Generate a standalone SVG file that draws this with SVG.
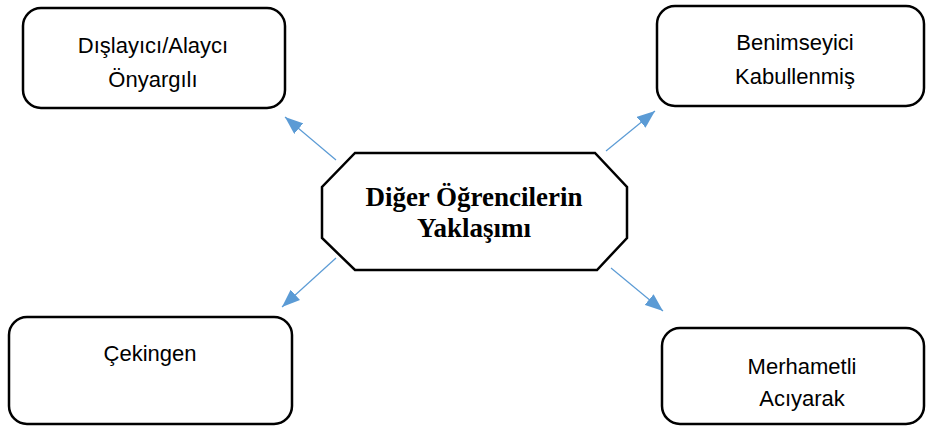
<svg xmlns="http://www.w3.org/2000/svg" width="927" height="436" viewBox="0 0 927 436">
<style>
.box{fill:#fff;stroke:#000;stroke-width:2.5}
.t{font-family:"Liberation Sans",Arial,sans-serif;font-size:22px;fill:#000;text-anchor:middle}
.c{font-family:"Liberation Serif","Times New Roman",serif;font-size:27px;font-weight:bold;fill:#000;text-anchor:middle}
.conn{stroke:#5B9BD5;stroke-width:1.2;fill:none;marker-end:url(#ah)}
</style>
<defs>
<marker id="ah" markerUnits="userSpaceOnUse" markerWidth="20" markerHeight="14" refX="18" refY="7" orient="auto">
<path d="M0,0 L18,7 L0,14 Z" fill="#5B9BD5"/>
</marker>
</defs>
<rect width="927" height="436" fill="#fff"/>
<g id="connectors">
<line class="conn" x1="336" y1="160" x2="285" y2="117"/>
<line class="conn" x1="606" y1="151" x2="655" y2="111"/>
<line class="conn" x1="336" y1="258" x2="282" y2="307"/>
<line class="conn" x1="611" y1="268" x2="663" y2="311"/>
</g>
<g id="center">
<polygon class="box" points="355,153 595,153 627,187 627,238 597,270 355,270 322,238 322,187"/>
<text class="c" x="474" y="206">Diğer Öğrencilerin</text>
<text class="c" x="474" y="237">Yaklaşımı</text>
</g>
<g id="dislayici">
<rect class="box" x="23" y="8" width="262" height="100" rx="18"/>
<text class="t" x="153" y="53">Dışlayıcı/Alaycı</text>
<text class="t" x="153" y="87">Önyargılı</text>
</g>
<g id="benimseyici">
<rect class="box" x="657" y="6" width="267" height="100" rx="18"/>
<text class="t" x="795" y="50">Benimseyici</text>
<text class="t" x="795" y="84">Kabullenmiş</text>
</g>
<g id="cekingen">
<rect class="box" x="9" y="317" width="283" height="107" rx="18"/>
<text class="t" x="150" y="361">Çekingen</text>
</g>
<g id="merhametli">
<rect class="box" x="662" y="328" width="262" height="96" rx="18"/>
<text class="t" x="802" y="374">Merhametli</text>
<text class="t" x="802" y="406">Acıyarak</text>
</g>
</svg>
